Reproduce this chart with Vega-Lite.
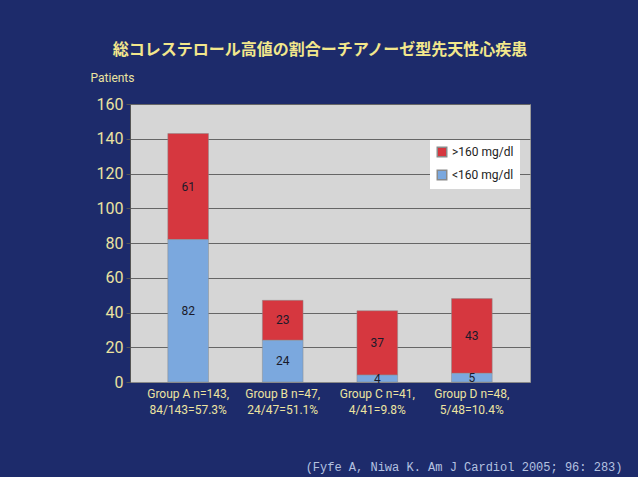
{
  "$schema": "https://vega.github.io/schema/vega-lite/v6.json",
  "autosize": "none",
  "width": 400,
  "height": 278,
  "padding": {"left": 130, "top": 104, "right": 108, "bottom": 95},
  "background": "#1d2b6b",
  "view": {"fill": "#d6d6d6", "stroke": "#9a9a9a"},
  "title": {
    "text": "総コレステロール高値の割合ーチアノーゼ型先天性心疾患",
    "color": "#f2e78c",
    "font": "Noto Sans CJK JP",
    "fontSize": 16,
    "fontWeight": "bold",
    "anchor": "middle",
    "offset": 13,
    "dx": -10
  },
  "data": {
    "values": [
      {"group": "Group A n=143,|84/143=57.3%", "chol": ">160 mg/dl", "patients": 61, "ord": 2},
      {"group": "Group A n=143,|84/143=57.3%", "chol": "<160 mg/dl", "patients": 82, "ord": 1},
      {"group": "Group B n=47,|24/47=51.1%", "chol": ">160 mg/dl", "patients": 23, "ord": 2},
      {"group": "Group B n=47,|24/47=51.1%", "chol": "<160 mg/dl", "patients": 24, "ord": 1},
      {"group": "Group C n=41,|4/41=9.8%", "chol": ">160 mg/dl", "patients": 37, "ord": 2},
      {"group": "Group C n=41,|4/41=9.8%", "chol": "<160 mg/dl", "patients": 4, "ord": 1},
      {"group": "Group D n=48,|5/48=10.4%", "chol": ">160 mg/dl", "patients": 43, "ord": 2},
      {"group": "Group D n=48,|5/48=10.4%", "chol": "<160 mg/dl", "patients": 5, "ord": 1}
    ]
  },
  "encoding": {
    "x": {
      "field": "group",
      "type": "nominal",
      "sort": null,
      "scale": {"paddingInner": 0.57, "paddingOuter": 0.4},
      "axis": {
        "title": "(Fyfe A, Niwa K. Am J Cardiol 2005; 96: 283)",
        "titleFont": "Liberation Mono",
        "titleFontWeight": "normal",
        "titleFontSize": 12,
        "titleColor": "#b4c2e0",
        "titleAnchor": "end",
        "titleAlign": "right",
        "titleBaseline": "middle",
        "titleX": 492,
        "titleY": 84,
        "labelExpr": "split(datum.value, '|')",
        "labelAngle": 0,
        "labelColor": "#ece3a0",
        "labelFont": "Liberation Sans Narrow, Roboto, sans-serif",
        "labelFontSize": 12,
        "labelLineHeight": 16,
        "labelPadding": 6,
        "domainColor": "#888888",
        "ticks": false
      }
    },
    "y": {
      "field": "patients",
      "type": "quantitative",
      "stack": "zero",
      "scale": {"domain": [0, 160]},
      "axis": {
        "title": "Patients",
        "titleAngle": 0,
        "titleX": -18,
        "titleY": -20,
        "titleAlign": "center",
        "titleColor": "#ece3a0",
        "titleFont": "Liberation Sans Narrow, Roboto, sans-serif",
        "titleFontWeight": "normal",
        "titleFontSize": 12,
        "values": [0, 20, 40, 60, 80, 100, 120, 140, 160],
        "labelColor": "#ece3a0",
        "labelFont": "Liberation Sans Narrow, Roboto, sans-serif",
        "labelFontSize": 16,
        "labelPadding": 3,
        "tickColor": "#555555",
        "tickSize": 4,
        "domainColor": "#555555",
        "gridColor": "#666666",
        "gridWidth": 1
      }
    },
    "order": {"field": "ord", "type": "quantitative"}
  },
  "layer": [
    {
      "mark": {"type": "bar", "stroke": "#8a8a8a", "strokeWidth": 0.5},
      "encoding": {
        "color": {
          "field": "chol",
          "type": "nominal",
          "scale": {"domain": [">160 mg/dl", "<160 mg/dl"], "range": ["#d6373f", "#7ba8de"]},
          "legend": {
            "title": null,
            "orient": "none",
            "legendX": 300,
            "legendY": 36,
            "fillColor": "#ffffff",
            "padding": 6,
            "symbolType": "square",
            "symbolSize": 90,
            "labelFontSize": 12,
            "labelColor": "#222222",
            "labelFont": "Liberation Sans Narrow, Roboto, sans-serif",
            "rowPadding": 7
          }
        }
      }
    },
    {
      "mark": {"type": "text", "color": "#1a1a2a", "fontSize": 12, "font": "Liberation Sans Narrow, Roboto, sans-serif"},
      "encoding": {
        "y": {"field": "patients", "type": "quantitative", "stack": "zero", "bandPosition": 0.5},
        "text": {"field": "patients", "type": "quantitative"}
      }
    }
  ]
}
